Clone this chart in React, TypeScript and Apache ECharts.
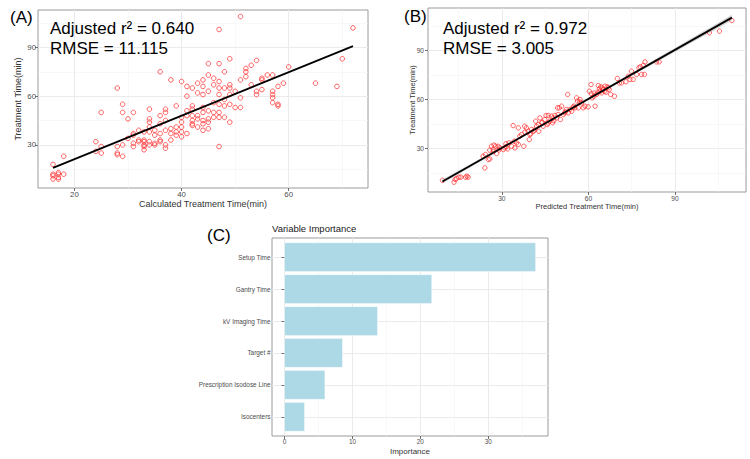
import React, { useEffect, useRef } from "react";
import * as echarts from "echarts";

const FONT = '"Liberation Sans", Arial, Helvetica, sans-serif';

// (A) calculated treatment time vs. recorded treatment time (min)
const calcVsActual: [number, number][] = [
  [16, 18], [16, 12], [16, 11], [16, 9], [17, 13], [17, 12], [17, 10], [17, 9], [18, 12], [18, 23],
  [24, 32], [24, 26], [25, 50], [25, 29], [25, 25], [28, 65], [28, 29], [28, 25], [28, 24],
  [29, 55], [29, 50], [29, 30], [29, 23], [30, 46], [30, 34],
  [31, 50], [31, 37], [31, 36], [31, 31], [31, 29], [32, 39], [32, 33], [32, 32],
  [33, 38], [33, 33], [33, 32], [33, 30], [33, 29], [33, 27],
  [34, 52], [34, 46], [34, 44], [34, 41], [34, 38], [34, 32], [34, 30],
  [35, 39], [35, 36], [35, 31], [35, 30],
  [36, 75], [36, 48], [36, 43], [36, 37], [36, 33], [36, 32],
  [37, 52], [37, 50], [37, 45], [37, 39], [37, 30], [37, 28],
  [38, 70], [38, 40], [38, 37], [38, 33], [39, 54], [39, 41], [39, 38], [39, 36],
  [40, 69], [40, 47], [40, 44], [40, 41], [40, 38], [40, 35],
  [41, 66], [41, 60], [41, 51], [41, 48], [41, 37],
  [42, 65], [42, 54], [42, 52], [42, 48], [42, 45], [42, 43], [42, 42],
  [43, 68], [43, 62], [43, 48], [43, 46], [43, 41],
  [44, 70], [44, 66], [44, 61], [44, 53], [44, 50], [44, 45], [44, 43], [44, 39],
  [45, 80], [45, 73], [45, 63], [45, 51], [45, 46], [45, 44], [45, 40],
  [46, 71], [46, 67], [46, 56], [46, 50], [46, 47],
  [47, 101], [47, 80], [47, 69], [47, 65], [47, 61], [47, 55], [47, 50], [47, 47], [47, 29],
  [48, 75], [48, 65], [48, 58], [48, 54], [48, 47],
  [49, 83], [49, 67], [49, 65], [49, 61], [49, 55], [49, 44],
  [50, 63], [50, 53], [51, 109], [51, 70], [51, 59], [51, 53],
  [52, 77], [52, 75], [52, 72], [53, 79], [53, 67], [54, 82], [54, 63], [54, 61],
  [55, 71], [55, 70], [55, 64], [56, 73],
  [57, 73], [57, 63], [57, 61], [57, 59], [57, 56], [58, 66], [58, 55], [58, 54],
  [59, 68], [60, 78], [65, 68], [69, 66], [70, 83], [72, 102],
];

// (B) predicted treatment time vs. recorded treatment time (min)
const predVsActual: [number, number][] = [
  [9.4, 10.4], [13.4, 9.2], [13.8, 10.9], [14.3, 11.5], [15.1, 12.3], [15.8, 12.3], [17.4, 12.3],
  [17.9, 12.9], [18.3, 12.3], [24.1, 18], [23.5, 25.2], [24.3, 26.2], [25.3, 23.1], [25.8, 23.5],
  [25.8, 28.9], [26.4, 31.3], [27, 29.3], [27.3, 32], [27.8, 31.3], [28.2, 26.8], [28.7, 31.3],
  [29.3, 30.3], [30.5, 29.3], [31, 30.3], [31.4, 32.8], [32, 29.7], [32.5, 33.4], [33.4, 31.3],
  [33.9, 44], [34.3, 34.4], [34.5, 30.3], [35.1, 33.4], [35.7, 42.6], [35.7, 32.4], [36.2, 37.5],
  [36.8, 38.5], [37.6, 31.3], [37.9, 43.6], [38.5, 42.6], [39.1, 40.5], [39.5, 35.4], [39.7, 38.5],
  [40.3, 41.6], [40.9, 40.5], [41.4, 41.2], [41.7, 46.7], [42, 43.6], [42.6, 44.6], [42.8, 40.5],
  [43.2, 48.7], [43.8, 45.7], [44.3, 43.6], [44.9, 47.7], [45.3, 50.2], [45.7, 44.6], [46.1, 50.2],
  [46.6, 46.7], [47.2, 49.8], [47.6, 45.7], [47.8, 48.7], [48.4, 50.2], [49, 48.7], [49.3, 54.9],
  [49.5, 50.8], [49.9, 54.9], [50.3, 47.7], [50.7, 55.9], [51.3, 50.8], [51.8, 51.8], [52.3, 53.9],
  [52.8, 63.1], [53, 51.8], [53.6, 53.9], [54.2, 52.8], [54.7, 55.3], [55.3, 54.9], [55.9, 61],
  [56.2, 59], [56.5, 54.9], [57.1, 60], [57.6, 58], [58.2, 54.9], [58.8, 55.9], [59.9, 55.5],
  [60.3, 65.1], [60.9, 69.2], [61.3, 61], [61.9, 62], [62.3, 55.9], [62.8, 63.1], [63.2, 64.1],
  [63.4, 68.6], [63.8, 66.6], [64, 65.1], [64.3, 67.8], [64.6, 64.1], [65.1, 66.1], [65.7, 68.2],
  [66.1, 64.5], [66.5, 67.8], [66.9, 67.2], [67.2, 66.1], [67.7, 63.1], [69, 62], [70, 72.9],
  [70.7, 70.2], [71.5, 70.2], [73, 70.9], [73.8, 74.3], [74.4, 72.3], [74.9, 77.4], [75.5, 72.3],
  [76.7, 75.4], [77.5, 79.5], [78, 80.1], [78.4, 75.4], [79, 80.9], [79.4, 75.4], [79.6, 83.1],
  [83.6, 83.1], [84.5, 83.1], [101.9, 101], [105.4, 102], [109.7, 108.5],
  [44, 46], [46, 45.5], [48, 47], [52, 52.5], [55, 56], [57, 58.5], [61, 63.5], [62, 64],
  [64.8, 67], [65.5, 65], [40, 39], [38, 40], [31.5, 31], [29, 29], [27, 28],
];

// (C) variable importance, top to bottom
const importanceVars = [
  "Setup Time",
  "Gantry Time",
  "kV Imaging Time",
  "Target #",
  "Prescription Isodose Line",
  "Isocenters",
];
const importanceVals = [36.97, 21.67, 13.68, 8.53, 5.94, 2.94];

const statsA = ["Adjusted r\u00b2 = 0.640", "RMSE = 11.115"];
const statsB = ["Adjusted r\u00b2 = 0.972", "RMSE = 3.005"];

// axis breaks (major / minor) and limits
const timeTicks = [30, 60, 90];
const timeMinor = [15, 45, 75, 105];
const calcTicks = [20, 40, 60];
const calcMinor = [30, 50, 70];
const impTicks = [0, 10, 20, 30];
const impMinor = [5, 15, 25, 35];
const impPositions = [1, 2, 3, 4, 5, 6];

const limA_x = [13.2, 74.8];
const limA_y = [3.5, 113];
const limB_x = [4.4, 114.6];
const limB_y = [3.2, 116.2];
const limC_x = [-1.85, 38.8];
const limC_y = [0.4, 6.6];

function linearFit(pts: [number, number][]) {
  const n = pts.length;
  let mx = 0, my = 0;
  pts.forEach(([x, y]) => { mx += x; my += y; });
  mx /= n; my /= n;
  let sxx = 0, sxy = 0;
  pts.forEach(([x, y]) => { sxx += (x - mx) ** 2; sxy += (x - mx) * (y - my); });
  const b = sxy / sxx;
  const a = my - b * mx;
  let sse = 0;
  pts.forEach(([x, y]) => { sse += (y - a - b * x) ** 2; });
  const s = Math.sqrt(sse / (n - 2));
  const xs = pts.map((p) => p[0]);
  return { a, b, mx, sxx, s, n, xmin: Math.min(...xs), xmax: Math.max(...xs) };
}

function majorAxis(gridIndex: number, lim: number[], ticks: number[], size: number, margin: number, extra: any = {}) {
  return {
    type: "value",
    gridIndex,
    min: lim[0],
    max: lim[1],
    axisLine: { show: false },
    axisTick: { show: true, length: 3, lineStyle: { color: "#4d4d4d", width: 0.8 }, customValues: ticks },
    axisLabel: { customValues: ticks, fontSize: size, color: "#4d4d4d", fontFamily: FONT, margin },
    splitLine: { show: true, lineStyle: { color: "#ebebeb", width: 1 } },
    ...extra,
  };
}

function minorAxis(gridIndex: number, lim: number[], ticks: number[], position: string) {
  return {
    type: "value",
    gridIndex,
    position,
    min: lim[0],
    max: lim[1],
    axisLine: { show: false },
    axisTick: { show: false, customValues: ticks },
    axisLabel: { show: false, customValues: ticks },
    splitLine: { show: true, lineStyle: { color: "#f3f3f3", width: 0.6 } },
  };
}

const pointStyle = { color: "rgba(0,0,0,0)", borderColor: "#ff2626", borderWidth: 0.9 };
const TITLE_INK = "#333333";

function buildOption() {
  const fitA = linearFit(calcVsActual);
  const fitB = linearFit(predVsActual);
  const lineA = [fitA.xmin, fitA.xmax].map((x) => [x, fitA.a + fitA.b * x]);
  const lineB = [fitB.xmin, fitB.xmax].map((x) => [x, fitB.a + fitB.b * x]);

  // 95% confidence ribbon around the (B) fit: upper edge left->right, lower edge back
  const steps = 40;
  const upperB: number[][] = [];
  const lowerB: number[][] = [];
  for (let i = 0; i <= steps; i++) {
    const x = fitB.xmin + ((fitB.xmax - fitB.xmin) * i) / steps;
    const se = fitB.s * Math.sqrt(1 / fitB.n + (x - fitB.mx) ** 2 / fitB.sxx);
    const yhat = fitB.a + fitB.b * x;
    upperB.push([x, yhat + 1.97 * se]);
    lowerB.push([x, yhat - 1.97 * se]);
  }
  const ribbonB = upperB.concat(lowerB.slice().reverse());

  const gridBox = { show: true, borderColor: "#9a9a9a", borderWidth: 1, backgroundColor: "rgba(0,0,0,0)" };
  const n = importanceVars.length;

  const text = (t: string, x: number, y: number, size: number, extra: any = {}) => ({
    type: "text",
    x,
    y,
    z: 50,
    style: { text: t, fontSize: size, fontFamily: FONT, fontWeight: "normal", fill: TITLE_INK, ...extra },
  });

  return {
    animation: false,
    backgroundColor: "#ffffff",
    grid: [
      { left: 38, top: 10, width: 330, height: 178, ...gridBox },
      { left: 428, top: 8, width: 318, height: 184, ...gridBox },
      { left: 272, top: 238, width: 276, height: 198, ...gridBox },
    ],
    xAxis: [
      majorAxis(0, limA_x, calcTicks, 7.8, 2.5),
      minorAxis(0, limA_x, calcMinor, "top"),
      majorAxis(1, limB_x, timeTicks, 6.6, 2.5),
      minorAxis(1, limB_x, timeMinor, "top"),
      majorAxis(2, limC_x, impTicks, 6.4, 2.5),
      minorAxis(2, limC_x, impMinor, "top"),
    ],
    yAxis: [
      majorAxis(0, limA_y, timeTicks, 7.8, 2),
      minorAxis(0, limA_y, timeMinor, "right"),
      majorAxis(1, limB_y, timeTicks, 6.6, 4),
      minorAxis(1, limB_y, timeMinor, "right"),
      majorAxis(2, limC_y, impPositions, 6.4, 1.5, {
        axisLabel: {
          customValues: impPositions,
          fontSize: 6.4,
          color: "#4d4d4d",
          fontFamily: FONT,
          margin: 1.5,
          formatter: (v: number) => importanceVars[n - Math.round(v)] ?? "",
        },
      }),
    ],
    series: [
      {
        type: "scatter",
        xAxisIndex: 0,
        yAxisIndex: 0,
        data: calcVsActual,
        symbol: "circle",
        symbolSize: 4.6,
        itemStyle: pointStyle,
        silent: true,
      },
      {
        type: "line",
        xAxisIndex: 0,
        yAxisIndex: 0,
        data: lineA,
        symbol: "none",
        lineStyle: { color: "#000", width: 1.8 },
        silent: true,
        z: 3,
      },
      {
        type: "custom",
        xAxisIndex: 2,
        yAxisIndex: 2,
        data: [[fitB.xmin, fitB.a + fitB.b * fitB.xmin]],
        silent: true,
        z: 1,
        renderItem: (params: any, api: any) => ({
          type: "polygon",
          shape: { points: ribbonB.map((p) => api.coord(p)) },
          style: { fill: "rgba(153,153,153,0.4)" },
        }),
      },
      {
        type: "scatter",
        xAxisIndex: 2,
        yAxisIndex: 2,
        data: predVsActual,
        symbol: "circle",
        symbolSize: 4.4,
        itemStyle: pointStyle,
        silent: true,
      },
      {
        type: "line",
        xAxisIndex: 2,
        yAxisIndex: 2,
        data: lineB,
        symbol: "none",
        lineStyle: { color: "#000", width: 1.8 },
        silent: true,
        z: 3,
      },
      {
        type: "custom",
        xAxisIndex: 4,
        yAxisIndex: 4,
        data: importanceVals.map((v, i) => [v, n - i]),
        encode: { x: 0, y: 1 },
        silent: true,
        renderItem: (params: any, api: any) => {
          const v = api.value(0);
          const p = api.value(1);
          const start = api.coord([0, p]);
          const end = api.coord([v, p]);
          const h = api.size([0, 0.9])[1];
          return {
            type: "rect",
            shape: { x: start[0], y: start[1] - h / 2, width: end[0] - start[0], height: h },
            style: { fill: "#add8e6", stroke: "#ffffff", lineWidth: 0.4 },
          };
        },
      },
    ],
    graphic: [
      text("(A)", 10, 9, 17, { fill: "#000" }),
      text("(B)", 404, 8, 17, { fill: "#000" }),
      text("(C)", 207, 227, 17, { fill: "#000" }),
      text(statsA[0], 50, 20, 17, { fill: "#000" }),
      text(statsA[1], 50, 40, 17, { fill: "#000" }),
      text(statsB[0], 443, 20, 17, { fill: "#000" }),
      text(statsB[1], 443, 40, 17, { fill: "#000" }),
      text("Calculated Treatment Time(min)", 203, 204, 9, { align: "center", verticalAlign: "middle" }),
      {
        type: "text",
        x: 17.5,
        y: 99,
        z: 50,
        rotation: Math.PI / 2,
        style: { text: "Treatment Time(min)", fontSize: 9, fontFamily: FONT, fontWeight: "normal", fill: TITLE_INK, align: "center", verticalAlign: "middle" },
      },
      text("Predicted Treatment Time(min)", 587, 206.5, 7.5, { align: "center", verticalAlign: "middle" }),
      {
        type: "text",
        x: 412.5,
        y: 100,
        z: 50,
        rotation: Math.PI / 2,
        style: { text: "Treatment Time(min)", fontSize: 7.5, fontFamily: FONT, fontWeight: "normal", fill: TITLE_INK, align: "center", verticalAlign: "middle" },
      },
      text("Variable Importance", 272, 228.5, 9.5, { verticalAlign: "middle", fill: "#1a1a1a" }),
      text("Importance", 410, 451, 8, { align: "center", verticalAlign: "middle" }),
    ],
  };
}

export default function App() {
  const ref = useRef<HTMLDivElement>(null);
  useEffect(() => {
    document.body.style.margin = "0";
    if (!ref.current) return;
    const chart = echarts.init(ref.current, undefined, { renderer: "svg" });
    chart.setOption(buildOption() as any);
    return () => chart.dispose();
  }, []);
  return <div ref={ref} style={{ width: 750, height: 459 }} />;
}
